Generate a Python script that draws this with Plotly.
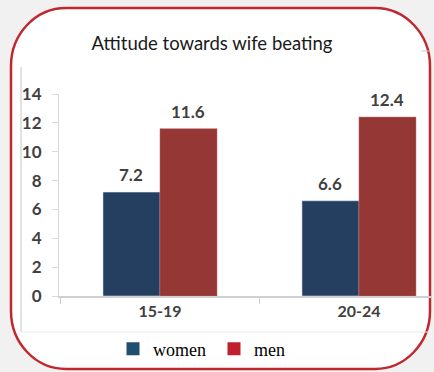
import plotly.graph_objects as go

categories = ["15-19", "20-24"]
women = [7.2, 6.6]
men = [11.6, 12.4]
y_ticks = [0, 2, 4, 6, 8, 10, 12, 14]

W, H = 434, 372
L, R, T, B = 59, 2, 94, 76
PW, PH = W - L - R, H - T - B


def px(x):
    return (x - L) / PW


def py(y):
    return (H - B - y) / PH


fig = go.Figure()
women_col = "#243F60"
men_col = "#953735"
fig.add_trace(go.Bar(x=categories, y=women, marker=dict(color=women_col), showlegend=False, name="women"))
fig.add_trace(go.Bar(x=categories, y=men, marker=dict(color=men_col, line=dict(color="#b86a68", width=0.5)), showlegend=False, name="men"))

# legend entries
fig.add_trace(go.Scatter(x=[None], y=[None], mode="markers", name="women",
                         marker=dict(symbol="square", size=13, color="#1F4E6E")))
fig.add_trace(go.Scatter(x=[None], y=[None], mode="markers", name="men",
                         marker=dict(symbol="square", size=13, color="#C0202E")))

# data labels
off = 0.1432
for i, c in enumerate(categories):
    for v, d in ((women[i], -off), (men[i], off)):
        fig.add_annotation(x=i + d, y=v, text=f"{v:.1f}", showarrow=False,
                           yanchor="bottom", yshift=5,
                           font=dict(family="Lato", size=17, color="#404040", weight="bold"))

# rounded frame
x0, x1, y0, y1 = 11, 430, 8, 369
rx, ry = 55, 58
k = 0.5523


def P(x, y):
    return f"{px(x):.5f},{py(y):.5f}"


path = (
    f"M {P(x0 + rx, y0)} L {P(x1 - rx, y0)} "
    f"C {P(x1 - rx + rx * k, y0)} {P(x1, y0 + ry - ry * k)} {P(x1, y0 + ry)} "
    f"L {P(x1, y1 - ry)} "
    f"C {P(x1, y1 - ry + ry * k)} {P(x1 - rx + rx * k, y1)} {P(x1 - rx, y1)} "
    f"L {P(x0 + rx, y1)} "
    f"C {P(x0 + rx - rx * k, y1)} {P(x0, y1 - ry + ry * k)} {P(x0, y1 - ry)} "
    f"L {P(x0, y0 + ry)} "
    f"C {P(x0, y0 + ry - ry * k)} {P(x0 + rx - rx * k, y0)} {P(x0 + rx, y0)} Z"
)
shapes = [
    dict(type="path", xref="paper", yref="paper", path=path, fillcolor="white",
         line=dict(color="#C1272D", width=2.5), layer="below"),
    dict(type="line", xref="paper", yref="paper", x0=px(21), x1=px(21), y0=py(67), y1=py(332),
         line=dict(color="#cfcfcf", width=1.2), layer="below"),
    dict(type="line", xref="paper", yref="paper", x0=px(21), x1=px(429), y0=py(332), y1=py(332),
         line=dict(color="#e8e8e8", width=1), layer="below"),
    dict(type="line", xref="paper", yref="paper", x0=px(421), x1=px(429), y0=py(51), y1=py(51),
         line=dict(color="#c8c8c8", width=1), layer="below"),
]

fig.update_layout(
    width=W, height=H,
    margin=dict(l=L, r=R, t=T, b=B),
    paper_bgcolor="#F1F1F1",
    plot_bgcolor="rgba(0,0,0,0)",
    barmode="group",
    bargap=0.427,
    bargroupgap=0,
    shapes=shapes,
    title=dict(text="Attitude towards wife beating", x=212 / W, xanchor="center",
               y=1 - 44 / H, yanchor="middle",
               font=dict(family="Lato", size=18.5, color="#1a1a1a")),
    legend=dict(orientation="h", x=px(113), xanchor="left", y=py(349), yanchor="middle",
                font=dict(family="Liberation Serif", size=18, color="#000000"),
                bgcolor="rgba(0,0,0,0)", itemwidth=30, entrywidth=56,
                tracegroupgap=0),
    showlegend=True,
)
fig.update_xaxes(range=[-0.5075, 1.367], showline=True, linecolor="#d0d0d0", linewidth=1.5,
                 ticks="outside", tickson="boundaries", ticklen=6, tickcolor="#d0d0d0",
                 tickfont=dict(family="Lato", size=16, color="#404040", weight="bold"),
                 showgrid=False, zeroline=False, fixedrange=True)
fig.update_yaxes(range=[0, 14], tickvals=y_ticks, showline=True, linecolor="#d9d9d9", linewidth=1.2,
                 ticks="outside", ticklen=6, tickcolor="#d9d9d9",
                 tickfont=dict(family="Lato", size=17, color="#404040", weight="bold"),
                 showgrid=False, zeroline=False, ticklabelstandoff=7)

fig.write_html("out.html")
